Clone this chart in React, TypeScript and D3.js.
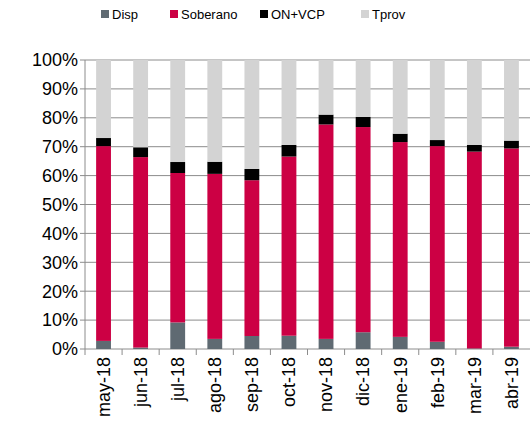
import * as d3 from "d3";

const months = ["may-18","jun-18","jul-18","ago-18","sep-18","oct-18","nov-18","dic-18","ene-19","feb-19","mar-19","abr-19"];
const disp = [2.8,0.5,9.2,3.5,4.5,4.6,3.5,5.8,4.2,2.5,0.2,0.8];
const soberano = [67.4,65.9,51.7,57.1,53.9,62.0,74.2,71.0,67.4,67.7,68.1,68.6];
const onvcp = [2.8,3.4,3.8,4.2,3.9,4.0,3.4,3.5,2.9,2.1,2.3,2.7];
const seriesNames = ["Disp","Soberano","ON+VCP","Tprov"];
const colors = ["#5f6a72","#cc0044","#000000","#d3d3d3"];
const yTicks = [0,10,20,30,40,50,60,70,80,90,100];

const W = 531, H = 442;
const M = { left: 85, right: 1, top: 60, bottom: 93 };

export default function App() {
  const x = d3.scaleBand().domain(months).range([M.left, W - M.right]).paddingInner(0.6).paddingOuter(0.3);
  const y = d3.scaleLinear().domain([0, 100]).range([H - M.bottom, M.top]);
  const rows = months.map((m, i) => {
    const v = [disp[i], soberano[i], onvcp[i]];
    const tprov = 100 - v[0] - v[1] - v[2];
    return { m, v: [...v, tprov] };
  });
  const step = x.step();
  const font = "Liberation Sans, Arial, sans-serif";
  return (
    <svg width={W} height={H} style={{ position: "absolute", left: 0, top: 0, fontFamily: font }}>
      {yTicks.map(t => (
        <g key={t}>
          <line x1={M.left} x2={W - M.right} y1={y(t)} y2={y(t)} stroke="#8c8c8c" strokeWidth={1} />
          <line x1={M.left - 5} x2={M.left} y1={y(t)} y2={y(t)} stroke="#8c8c8c" />
          <text x={M.left - 7} y={y(t)} dy="0.35em" textAnchor="end" fontSize={18}>{t}%</text>
        </g>
      ))}
      <line x1={M.left} x2={M.left} y1={M.top} y2={y(0)} stroke="#8c8c8c" />
      {months.map((m, i) => (
        <line key={m} x1={M.left + step * i} x2={M.left + step * i} y1={y(0)} y2={y(0) + 6} stroke="#8c8c8c" />
      ))}
      {rows.map(r => {
        let acc = 0;
        return (
          <g key={r.m}>
            {r.v.map((val, k) => {
              const y0 = acc; acc += val;
              return <rect key={k} x={x(r.m)} width={x.bandwidth()} y={y(acc)} height={y(y0) - y(acc)} fill={colors[k]} />;
            })}
            <text transform={`translate(${(x(r.m) as number) + x.bandwidth() / 2},${y(0) + 8}) rotate(-90)`} dy="0.35em" textAnchor="end" fontSize={18}>{r.m}</text>
          </g>
        );
      })}
      {seriesNames.map((s, k) => {
        const lx = [101, 170, 260, 361][k];
        return (
          <g key={s}>
            <rect x={lx} y={10} width={8} height={8} fill={colors[k]} />
            <text x={lx + 11} y={14} dy="0.35em" fontSize={13}>{s}</text>
          </g>
        );
      })}
    </svg>
  );
}
